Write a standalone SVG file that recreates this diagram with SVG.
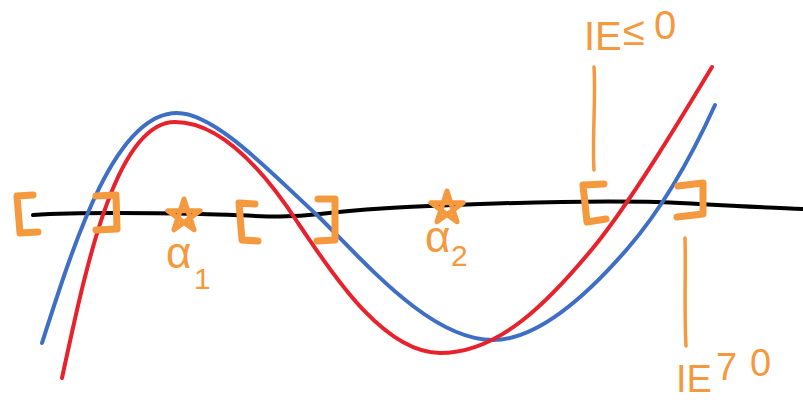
<svg xmlns="http://www.w3.org/2000/svg" width="803" height="402" viewBox="0 0 803 402">
<defs>
<style>
.crv{fill:none;stroke-width:4;stroke-linecap:round;stroke-linejoin:round}
.axis{stroke:#000}
.blue{stroke:#3f6fc4}
.red{stroke:#e8222c}
.br{fill:none;stroke:#f5993f;stroke-width:7;stroke-linecap:round;stroke-linejoin:round}
.tick{fill:none;stroke:#f5993f;stroke-width:3.5;stroke-linecap:round}
.star{fill:none;stroke:#f5993f;stroke-width:5;stroke-linejoin:round;stroke-linecap:round}
.lbl{fill:#f5993f;font-family:"Liberation Sans","DejaVu Sans",sans-serif}
</style>
<path id="starShape" d="M0,-17 L10,13.8 L-16.2,-5.3 L16.2,-5.3 L-10,13.8 Z"/>
</defs>
<rect width="803" height="402" fill="#fff"/>
<g id="connectors">
<path id="axis" class="crv axis" d="M33,215 C80,212 150,213 200,214 S280,219 320,214 S420,206 480,204 S620,200 680,203 S770,208 803,209"/>
<path id="blue-curve" class="crv blue" d="M42,343 C75,240 115,113 177,113 C215,113 270,172 317,215 C365,262 430,340 493,340 C540,340 590,292 628,248 C660,211 690,160 715,105"/>
<path id="red-curve" class="crv red" d="M62,378 C85,272 115,122 175,122 C225,122 270,180 298,223 C325,262 380,353 440,353 C500,353 550,300 593,248 C630,203 680,120 712,67"/>
</g>
<g id="bracket1"><path class="br" d="M33,195 L17,196 L20,233 L38,232"/></g>
<g id="bracket2"><path class="br" d="M96,196 L116,195 L117,229 L96,230"/></g>
<g id="bracket3"><path class="br" d="M255,204 L239,203 L242,240 L258,241"/></g>
<g id="bracket4"><path class="br" d="M318,199 L335,199 L335,240 L317,241"/></g>
<g id="bracket5"><path class="br" d="M604,184 L583,185 L587,222 L606,219"/></g>
<g id="bracket6"><path class="br" d="M678,186 L703,183 L703,214 L677,217"/></g>
<g id="star1"><use href="#starShape" class="star" transform="translate(184,216)"/></g>
<g id="star2"><use href="#starShape" class="star" transform="translate(447,208)"/></g>
<g id="label-alpha1"><text class="lbl" x="166" y="268" font-size="44">α<tspan font-size="30" x="194" y="289">1</tspan></text></g>
<g id="label-alpha2"><text class="lbl" x="425" y="252" font-size="44">α<tspan font-size="30" x="451" y="266">2</tspan></text></g>
<g id="label-top">
<path class="tick" d="M594,67 C596,100 592,140 594,170"/>
<text class="lbl" x="584" y="50" font-size="40">IE<tspan x="623" y="45">≤</tspan><tspan x="654" y="39">0</tspan></text>
</g>
<g id="label-bottom">
<path class="tick" d="M685,238 C686,270 684,310 686,346"/>
<text class="lbl" x="676" y="392" font-size="38">IE<tspan x="716" y="380">7</tspan><tspan x="750" y="376">0</tspan></text>
</g>
</svg>
